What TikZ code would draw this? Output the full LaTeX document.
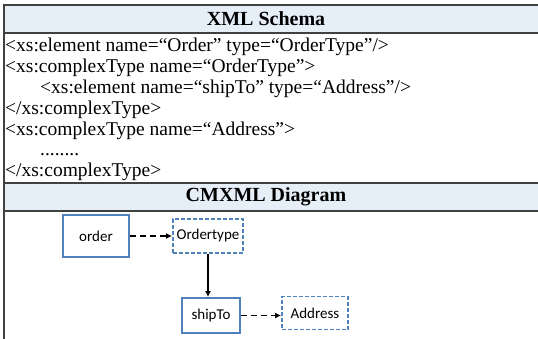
\documentclass[tikz,border=0pt]{standalone}
\usepackage{fontspec}
\setmainfont{Liberation Serif}
\newfontfamily\boxfont{Carlito}
\usetikzlibrary{arrows.meta}
\definecolor{headfill}{HTML}{E6EEF8}
\definecolor{rulegray}{HTML}{404040}
\definecolor{boxblue}{HTML}{4F81BD}
\tikzset{
    head-row/.style = {fill=headfill},
    head-title/.style = {inner sep=0pt, font=\fontsize{20}{24}\selectfont\bfseries},
    code-line/.style = {anchor=base west, inner sep=0pt, font=\fontsize{19.5}{22}\selectfont},
    table-rule/.style = {draw=rulegray, line width=1.2pt},
    solid-box/.style = {draw=boxblue, line width=1.8pt, fill=white, rectangle, inner sep=0pt, font=\boxfont\fontsize{15}{17}\selectfont},
    dashed-box/.style = {solid-box, dash pattern=on 4pt off 2pt},
    link/.style = {-{Latex[length=6pt,width=6pt]}, line width=1.4pt},
    dashed-link/.style = {link, dash pattern=on 6pt off 4pt},
}
\begin{document}
\begin{tikzpicture}[x=1pt,y=-1pt]
\useasboundingbox (0,0) rectangle (538,339);
\fill[head-row] (4,5) rectangle (538,33);
\fill[head-row] (4,183) rectangle (538,211);
\draw[table-rule] (538,5) -- (4,5) -- (4,339);
\draw[table-rule] (4,33) -- (538,33);
\draw[table-rule] (4,183) -- (538,183);
\draw[table-rule] (4,211) -- (538,211);
\node[head-title] (schema) at (266,19) {XML Schema};
\node[head-title] (cmxml) at (266,197) {CMXML Diagram};
\node[code-line] (line1) at (5,52) {<xs:element name=“Order” type=“OrderType”/>};
\node[code-line] (line2) at (5,73) {<xs:complexType name=“OrderType”>};
\node[code-line] (line3) at (40,94) {<xs:element name=“shipTo” type=“Address”/>};
\node[code-line] (line4) at (5,115) {</xs:complexType>};
\node[code-line] (line5) at (5,136) {<xs:complexType name=“Address”>};
\node[code-line] (line6) at (40,156) {........};
\node[code-line] (line7) at (5,177) {</xs:complexType>};
\node[solid-box, minimum width=66pt, minimum height=42pt] (order) at (96,236) {order};
\node[dashed-box, minimum width=70pt, minimum height=34pt] (ordertype) at (208,236) {Ordertype};
\node[solid-box, minimum width=58pt, minimum height=35pt] (shipto) at (211,315.5) {shipTo};
\node[dashed-box, minimum width=66pt, minimum height=33pt] (address) at (315,313) {Address};
\draw[dashed-link] (order.east) -- (ordertype.west);
\draw[link] (ordertype.south) -- (ordertype.south |- shipto.north);
\draw[dashed-link] (shipto.east) -- (shipto.east -| address.west);
\end{tikzpicture}
\end{document}
